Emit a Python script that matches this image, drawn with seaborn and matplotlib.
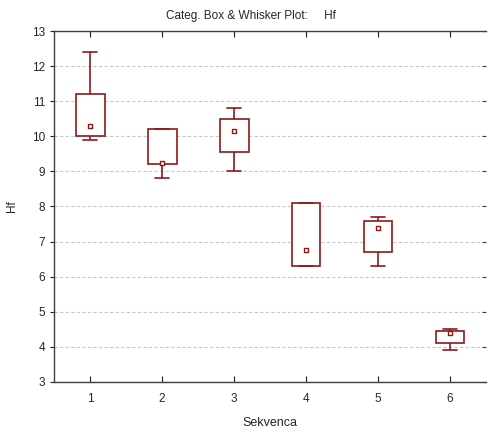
import matplotlib
matplotlib.use("Agg")
import matplotlib.pyplot as plt
import seaborn as sns
import pandas as pd

# Five-number summaries per category (min, q1, median, q3, max)
categories = ["1", "2", "3", "4", "5", "6"]
mins = [9.9, 8.8, 9.0, 6.3, 6.3, 3.9]
q1s = [10.0, 9.2, 9.55, 6.3, 6.7, 4.1]
medians = [10.3, 9.25, 10.15, 6.75, 7.4, 4.4]
q3s = [11.2, 10.2, 10.5, 8.1, 7.6, 4.45]
maxs = [12.4, 10.2, 10.8, 8.1, 7.7, 4.5]
yticks = [3, 4, 5, 6, 7, 8, 9, 10, 11, 12, 13]

rows = []
for c, a, b, m, d, e in zip(categories, mins, q1s, medians, q3s, maxs):
    for v in (a, b, m, d, e):
        rows.append({"Sekvenca": c, "Hf": v})
df = pd.DataFrame(rows)
med_df = pd.DataFrame({"Sekvenca": categories, "Hf": medians})

sns.set_style("white")
plt.rcParams["font.family"] = ["Liberation Sans", "DejaVu Sans"]

red = "#8b1a1a"
fig = plt.figure(figsize=(4.88, 4.32), dpi=100)
ax = fig.add_axes([0.111, 0.116, 0.885, 0.812])

sns.boxplot(data=df, x="Sekvenca", y="Hf", order=categories, whis=(0, 100),
            width=0.40, color="white", linecolor=red, linewidth=1.2,
            showfliers=False, medianprops={"visible": False},
            capprops={"color": red}, whiskerprops={"color": red},
            boxprops={"edgecolor": red, "facecolor": "white"}, ax=ax)
sns.stripplot(data=med_df, x="Sekvenca", y="Hf", order=categories, jitter=False,
              marker="s", size=3.2, color="white", edgecolor=red, linewidth=1.0,
              ax=ax, zorder=5)

ax.set_ylim(3, 13)
ax.set_xlim(-0.5, 5.5)
ax.set_yticks(yticks)
ax.set_yticklabels([str(t) for t in yticks])
ax.yaxis.grid(True, linestyle=(0, (3, 2)), color="#c8c8c8", linewidth=0.8)
ax.set_axisbelow(True)

for s in ["left", "bottom", "top"]:
    ax.spines[s].set_visible(True)
    ax.spines[s].set_color("#404040")
    ax.spines[s].set_linewidth(1.0)
ax.spines["right"].set_visible(False)

ax.tick_params(axis="x", direction="in", length=4, top=True, bottom=True,
               labelsize=8.5, pad=8, color="#202020")
ax.tick_params(axis="y", direction="out", length=3, left=True, right=False,
               labelsize=8.5, color="#202020")

# inward ticks on the right edge
ax2 = ax.twinx()
ax2.set_ylim(3, 13)
ax2.set_yticks(yticks)
ax2.tick_params(axis="y", direction="in", length=3, labelright=False,
                color="#404040")
for s in ax2.spines.values():
    s.set_visible(False)

ax.set_xlabel("Sekvenca", fontsize=9, labelpad=9)
ax.set_ylabel("Hf", fontsize=8.5, labelpad=10)
ax.set_title("Categ. Box & Whisker Plot:     Hf", fontsize=8.5, pad=9, x=0.455)

fig.savefig("out.png", dpi=100)
